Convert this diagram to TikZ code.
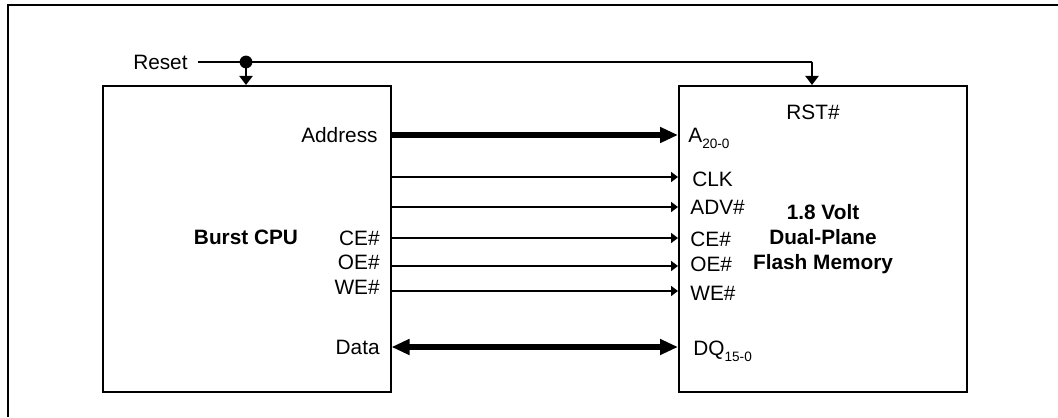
\documentclass[tikz,border=0pt]{standalone}
\usepackage{fontspec}
\setmainfont{Liberation Sans}
\usetikzlibrary{arrows.meta}
\newcommand{\lowsub}[1]{\raisebox{-3pt}{\fontsize{6.8}{7}\selectfont #1}}
\tikzset{
  chip/.style={draw, line width=1pt, minimum width=144pt, minimum height=153pt, inner sep=0pt},
  lbl/.style={inner sep=0pt, font=\fontsize{10.4}{12}\selectfont},
  sig/.style={line width=1pt, -{Triangle[length=3.5pt, width=5pt]}},
  bus/.style={line width=2.9pt, -{Triangle[length=9pt, width=7.5pt]}},
  bibus/.style={line width=2.9pt, {Triangle[length=9pt, width=7.5pt]}-{Triangle[length=9pt, width=7.5pt]}},
  rst/.style={line width=1pt, -{Triangle[length=4.5pt, width=6.5pt]}},
  title/.style={inner sep=0pt, font=\fontsize{10.4}{12.4}\selectfont\bfseries, align=center},
}
\begin{document}
\begin{tikzpicture}[x=0.5pt, y=-0.5pt]
\useasboundingbox (0,0) rectangle (1058,417);
% outer frame (partially visible)
\draw[line width=1pt] (1058,5) -- (8,5) -- (8,417);
% chips
\node[chip] (cpu) at (246.5,239) {};
\node[chip] (mem) at (823,239) {};
\node[title] (cputitle) at (246,237) {Burst CPU};
\node[title] (memtitle) at (823,239) {1.8 Volt\\Dual-Plane\\Flash Memory};
% reset
\node[lbl, anchor=east] (reset) at (188,62) {Reset};
\coordinate (dot) at (246,62);
\coordinate (corner) at (812,62);
\draw[line width=1pt] ([xshift=5pt]reset.east) -- (dot) -- (corner);
\fill (dot) circle (3.2pt);
\draw[rst] (dot) -- (dot |- cpu.north);
\draw[rst] (corner) -- (corner |- mem.north);
\node[lbl] (rstn) at (813,112) {RST\#};
% left labels
\node[lbl, anchor=east] (laddr) at (378,135) {Address};
\node[lbl, anchor=east] (lce) at (380,238) {CE\#};
\node[lbl, anchor=east] (loe) at (380,262) {OE\#};
\node[lbl, anchor=east] (lwe) at (380,287) {WE\#};
\node[lbl, anchor=east] (ldata) at (380,347) {Data};
% right labels
\node[lbl, anchor=base west] (raddr) at (688,142) {A\lowsub{20-0}};
\node[lbl, anchor=west] (rclk) at (692,179) {CLK};
\node[lbl, anchor=west] (radv) at (690,207) {ADV\#};
\node[lbl, anchor=west] (rce) at (690,239) {CE\#};
\node[lbl, anchor=west] (roe) at (690,264) {OE\#};
\node[lbl, anchor=west] (rwe) at (690,293) {WE\#};
\node[lbl, anchor=base west] (rdq) at (693,355) {DQ\lowsub{15-0}};
% signals
\draw[bus] (cpu.east |- 0,135) -- (mem.west |- 0,135);
\draw[sig] (cpu.east |- 0,177) -- (mem.west |- 0,177);
\draw[sig] (cpu.east |- 0,207) -- (mem.west |- 0,207);
\draw[sig] (cpu.east |- 0,238) -- (mem.west |- 0,238);
\draw[sig] (cpu.east |- 0,266) -- (mem.west |- 0,266);
\draw[sig] (cpu.east |- 0,291) -- (mem.west |- 0,291);
\draw[bibus] (cpu.east |- 0,347) -- (mem.west |- 0,347);
\end{tikzpicture}
\end{document}
